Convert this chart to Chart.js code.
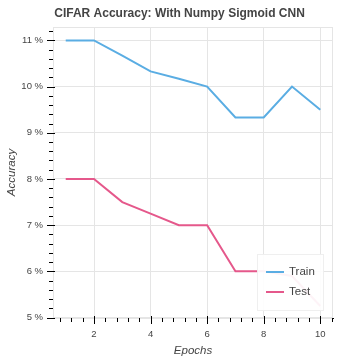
<!DOCTYPE html>
<html>
<head>
<meta charset="utf-8">
<script src="https://cdn.jsdelivr.net/npm/chart.js@4/dist/chart.umd.min.js"></script>
<style>
  html, body { margin: 0; padding: 0; background: #fff; }
  #wrap { width: 359px; height: 359px; }
</style>
</head>
<body>
<div id="wrap"><canvas id="accChart" width="359" height="359"></canvas></div>
<script>
const epochs = [1, 2, 3, 4, 5, 6, 7, 8, 9, 10];
const trainAcc = [11, 11, 10.67, 10.33, 10.17, 10, 9.33, 9.33, 10, 9.5];
const testAcc = [8, 8, 7.5, 7.25, 7, 7, 6, 6, 5.9, 5.25];
const yTicks = [5, 6, 7, 8, 9, 10, 11];
const xTicks = [2, 4, 6, 8, 10];

const FONT = "'Liberation Sans', Arial, sans-serif";
const TEXT = "#444444";
const GRID = "#e5e5e5";

function toPoints(vals) {
  return epochs.map((e, i) => ({ x: e, y: vals[i] }));
}

// frame outline like bokeh's plot outline
const frameOutline = {
  id: "frameOutline",
  beforeDatasetsDraw(chart) {
    const { ctx, chartArea: a } = chart;
    ctx.save();
    ctx.strokeStyle = GRID;
    ctx.lineWidth = 1;
    ctx.strokeRect(a.left + 0.5, a.top + 0.5, a.right - a.left - 1, a.bottom - a.top);
    ctx.restore();
  }
};

// major / minor tick marks on the axes
const tickMarks = {
  id: "tickMarks",
  afterDatasetsDraw(chart) {
    const { ctx, chartArea: a, scales } = chart;
    const xs = scales.x, ys = scales.y;
    ctx.save();
    ctx.strokeStyle = "#000";
    ctx.lineWidth = 1;
    ctx.beginPath();
    // y axis
    for (let v = Math.ceil(ys.min * 5) / 5; v <= ys.max + 1e-9; v += 0.2) {
      const py = Math.round(ys.getPixelForValue(v)) + 0.5;
      const major = Math.abs(v - Math.round(v)) < 1e-6;
      ctx.moveTo(a.left - (major ? 6 : 4), py);
      ctx.lineTo(a.left + (major ? 2 : 0), py);
    }
    // x axis
    for (let v = Math.ceil(xs.min / 0.4) * 0.4; v <= xs.max + 1e-9; v += 0.4) {
      const px = Math.round(xs.getPixelForValue(v)) + 0.5;
      const major = Math.abs(v / 2 - Math.round(v / 2)) < 1e-6;
      ctx.moveTo(px, a.bottom + (major ? 6 : 4));
      ctx.lineTo(px, a.bottom - (major ? 2 : 0));
    }
    ctx.stroke();
    ctx.restore();
  }
};

// legend drawn inside the plot, bottom right
const insideLegend = {
  id: "insideLegend",
  afterDraw(chart) {
    const { ctx, chartArea: a } = chart;
    const w = 67, h = 57;
    const x0 = a.right - 9 - w, y0 = a.bottom - 7 - h;
    ctx.save();
    ctx.fillStyle = "rgba(255,255,255,0.93)";
    ctx.fillRect(x0, y0, w, h);
    ctx.strokeStyle = "rgba(229,229,229,0.6)";
    ctx.lineWidth = 1;
    ctx.strokeRect(x0 + 0.5, y0 + 0.5, w - 1, h - 1);
    ctx.font = "11.5px " + FONT;
    ctx.textBaseline = "middle";
    chart.data.datasets.forEach((ds, i) => {
      const cy = y0 + 18 + i * 20;
      ctx.strokeStyle = ds.borderColor;
      ctx.lineWidth = 2;
      ctx.beginPath();
      ctx.moveTo(x0 + 9, cy);
      ctx.lineTo(x0 + 27, cy);
      ctx.stroke();
      ctx.fillStyle = TEXT;
      ctx.fillText(ds.label, x0 + 32, cy);
    });
    ctx.restore();
  }
};

new Chart(document.getElementById("accChart"), {
  type: "line",
  data: {
    datasets: [
      { label: "Train", data: toPoints(trainAcc), borderColor: "#5aade3", borderWidth: 2, pointRadius: 0, tension: 0, fill: false },
      { label: "Test", data: toPoints(testAcc), borderColor: "#e5588b", borderWidth: 2, pointRadius: 0, tension: 0, fill: false }
    ]
  },
  options: {
    responsive: false,
    animation: false,
    layout: { padding: 0 },
    plugins: {
      legend: { display: false },
      tooltip: { enabled: false },
      title: {
        display: true,
        text: "CIFAR Accuracy: With Numpy Sigmoid CNN",
        color: TEXT,
        font: { family: FONT, size: 12, weight: "bold" },
        padding: { top: 6.5, bottom: 6.1 }
      }
    },
    scales: {
      x: {
        type: "linear",
        min: 0.55,
        max: 10.45,
        afterBuildTicks(s) { s.ticks = xTicks.map(v => ({ value: v })); },
        afterFit(s) { s.height = 41; },
        grid: { color: GRID, drawTicks: false },
        border: { color: "#000", width: 1 },
        ticks: { color: TEXT, font: { family: FONT, size: 9.5 }, padding: 11, maxRotation: 0 },
        title: { display: true, text: "Epochs", color: TEXT, font: { family: FONT, size: 11.5, style: "italic" }, padding: { top: 4, bottom: 1 } }
      },
      y: {
        min: 4.99,
        max: 11.29,
        afterBuildTicks(s) { s.ticks = yTicks.map(v => ({ value: v })); },
        afterFit(s) { s.width = 53; },
        grid: { color: GRID, drawTicks: false },
        border: { color: "#000", width: 1 },
        ticks: { color: TEXT, font: { family: FONT, size: 9.5 }, padding: 10, callback: v => v + " %" },
        title: { display: true, text: "Accuracy", color: TEXT, font: { family: FONT, size: 11.5, style: "italic" }, padding: { top: 5, bottom: 0 } }
      },
      yRight: {
        position: "right",
        display: true,
        grid: { display: false, drawTicks: false },
        border: { display: false },
        ticks: { display: false },
        afterFit(s) { s.width = 26; }
      }
    }
  },
  plugins: [frameOutline, tickMarks, insideLegend]
});
</script>
</body>
</html>
